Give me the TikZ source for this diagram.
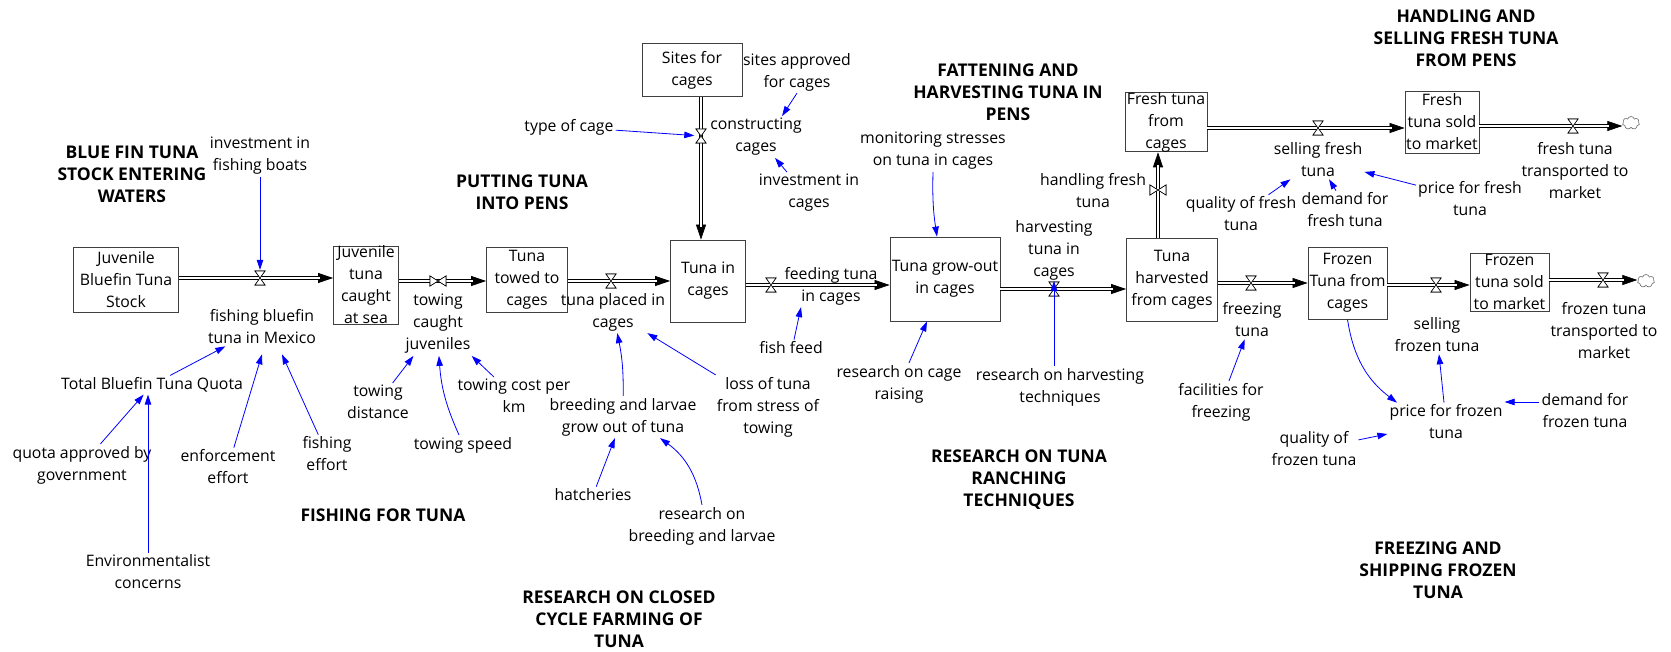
\documentclass[tikz,border=0pt]{standalone}
\usepackage{fontspec}
\setmainfont{Open Sans}
\usetikzlibrary{arrows.meta,shapes.symbols}

\begin{document}
\begin{tikzpicture}[x=1pt,y=-1pt,
    every node/.style={font=\fontsize{15.8}{22}\selectfont},
    stock/.style={draw=black!75, line width=.8pt, align=center, inner sep=0pt},
    aux/.style={align=center, inner sep=2pt},
    sector/.style={align=center, font=\fontsize{17.5}{22}\selectfont\bfseries},
    pipe/.style={draw=black, line width=.7pt, double=white, double distance=2.6pt, shorten >=13pt},
    flowhead/.style={draw=black, line width=.7pt, -{Triangle[length=15pt,width=10pt]}},
    link/.style={draw=blue, line width=.8pt, -{Triangle[length=10pt,width=6.5pt]}},
    valve/.style={inner sep=0pt, minimum width=13pt, minimum height=16pt,
        path picture={\draw[line width=.6pt, fill=white]
            ([xshift=1.5pt,yshift=-1pt]path picture bounding box.north west) --
            ([xshift=-1.5pt,yshift=-1pt]path picture bounding box.north east) --
            ([xshift=1.5pt,yshift=1pt]path picture bounding box.south west) --
            ([xshift=-1.5pt,yshift=1pt]path picture bounding box.south east) -- cycle;}},
    bowtie/.style={inner sep=0pt, minimum width=18pt, minimum height=13pt,
        path picture={\draw[line width=.6pt, fill=white]
            ([xshift=1pt,yshift=-1.5pt]path picture bounding box.north west) --
            ([xshift=1pt,yshift=1.5pt]path picture bounding box.south west) --
            ([xshift=-1pt,yshift=-1.5pt]path picture bounding box.north east) --
            ([xshift=-1pt,yshift=1.5pt]path picture bounding box.south east) -- cycle;}},
    sink/.style={cloud, cloud puffs=7, draw=black!60, line width=.6pt, inner sep=0pt,
        minimum width=17pt, minimum height=13pt}]
\useasboundingbox (0,0) rectangle (1671,652);

% sectors of the model
\node[sector] (secstock) at (132,174) {BLUE FIN TUNA\\STOCK ENTERING\\WATERS};
\node[sector] (secput) at (522,192) {PUTTING TUNA\\INTO PENS};
\node[sector] (secfish) at (383,515) {FISHING FOR TUNA};
\node[sector] (secclosed) at (619,619) {RESEARCH ON CLOSED\\CYCLE FARMING OF\\TUNA};
\node[sector] (secfat) at (1008,92) {FATTENING AND\\HARVESTING TUNA IN\\PENS};
\node[sector] (secranch) at (1019,480) {RESEARCH ON TUNA\\RANCHING\\TECHNIQUES};
\node[sector] (secsell) at (1466,38) {HANDLING AND\\SELLING FRESH TUNA\\FROM PENS};
\node[sector] (secfreeze) at (1438,570) {FREEZING AND\\SHIPPING FROZEN\\TUNA};

% stocks
\node[stock, minimum width=105pt, minimum height=65pt] (juv) at (126,280) {Juvenile\\Bluefin Tuna\\Stock};
\node[stock, minimum width=65pt, minimum height=76pt] (caught) at (366,285) {Juvenile\\tuna\\caught\\at sea};
\node[stock, minimum width=81pt, minimum height=65pt] (towed) at (527,280) {Tuna\\towed to\\cages};
\node[stock, minimum width=100pt, minimum height=53pt] (sites) at (692,70) {Sites for\\cages};
\node[stock, minimum width=75pt, minimum height=82pt] (incages) at (708,281) {Tuna in\\cages};
\node[stock, minimum width=110pt, minimum height=84pt] (growout) at (945,279) {Tuna grow-out\\in cages};
\node[stock, minimum width=91pt, minimum height=83pt] (harv) at (1172,280) {Tuna\\harvested\\from cages};
\node[stock, minimum width=82pt, minimum height=58pt] (fresh) at (1166,122) {Fresh tuna\\from\\cages};
\node[stock, minimum width=74pt, minimum height=62pt] (freshsold) at (1442,122) {Fresh\\tuna sold\\to market};
\node[stock, minimum width=79pt, minimum height=72pt] (frozen) at (1347.5,283) {Frozen\\Tuna from\\cages};
\node[stock, minimum width=79pt, minimum height=58pt] (frozensold) at (1509.5,282) {Frozen\\tuna sold\\to market};
\node[sink] (cfresh) at (1631,123) {};
\node[sink] (cfrozen) at (1646,281) {};

% valves
\node[valve] (vfish) at (260,278) {};
\node[bowtie] (vtow) at (438,281) {};
\node[valve] (vplace) at (611,281) {};
\node[valve] (vbuild) at (701,136) {};
\node[valve] (vfeed) at (771,285) {};
\node[valve] (vharv) at (1054,289) {};
\node[bowtie] (vhandle) at (1158,190) {};
\node[valve] (vsellfresh) at (1318,128) {};
\node[valve] (vtransfresh) at (1573,126) {};
\node[valve] (vfreeze) at (1251,283) {};
\node[valve] (vsellfrozen) at (1436,285) {};
\node[valve] (vtransfrozen) at (1603,280) {};

% pipes (head first, double line over it)
\draw[flowhead] (juv.east |- vfish) -- (caught.west |- vfish);
\draw[pipe] (juv.east |- vfish) -- (caught.west |- vfish);
\draw[flowhead] (caught.east |- vtow) -- (towed.west |- vtow);
\draw[pipe] (caught.east |- vtow) -- (towed.west |- vtow);
\draw[flowhead] (towed.east |- vplace) -- (incages.west |- vplace);
\draw[pipe] (towed.east |- vplace) -- (incages.west |- vplace);
\draw[flowhead] (sites.south -| vbuild) -- (incages.north -| vbuild);
\draw[pipe] (sites.south -| vbuild) -- (incages.north -| vbuild);
\draw[flowhead] (incages.east |- vfeed) -- (growout.west |- vfeed);
\draw[pipe] (incages.east |- vfeed) -- (growout.west |- vfeed);
\draw[flowhead] (growout.east |- vharv) -- (harv.west |- vharv);
\draw[pipe] (growout.east |- vharv) -- (harv.west |- vharv);
\draw[flowhead] (harv.north -| vhandle) -- (fresh.south -| vhandle);
\draw[pipe] (harv.north -| vhandle) -- (fresh.south -| vhandle);
\draw[flowhead] (fresh.east |- vsellfresh) -- (freshsold.west |- vsellfresh);
\draw[pipe] (fresh.east |- vsellfresh) -- (freshsold.west |- vsellfresh);
\draw[flowhead] (freshsold.east |- vtransfresh) -- (cfresh.west |- vtransfresh);
\draw[pipe] (freshsold.east |- vtransfresh) -- (cfresh.west |- vtransfresh);
\draw[flowhead] (harv.east |- vfreeze) -- (frozen.west |- vfreeze);
\draw[pipe] (harv.east |- vfreeze) -- (frozen.west |- vfreeze);
\draw[flowhead] (frozen.east |- vsellfrozen) -- (frozensold.west |- vsellfrozen);
\draw[pipe] (frozen.east |- vsellfrozen) -- (frozensold.west |- vsellfrozen);
\draw[flowhead] (frozensold.east |- vtransfrozen) -- (cfrozen.west |- vtransfrozen);
\draw[pipe] (frozensold.east |- vtransfrozen) -- (cfrozen.west |- vtransfrozen);
% valves again on top of the pipes
\foreach \v/\s in {vfish/valve, vtow/bowtie, vplace/valve, vbuild/valve, vfeed/valve, vharv/valve,
    vhandle/bowtie, vsellfresh/valve, vtransfresh/valve, vfreeze/valve, vsellfrozen/valve, vtransfrozen/valve}
  \node[\s] at (\v) {};

% flow names and other variables
\node[aux] (invboat) at (260,156) {investment in\\fishing boats};
\node[aux] (fishing) at (262,327) {fishing bluefin\\tuna in Mexico};
\node[aux] (quota) at (152,385) {Total Bluefin Tuna Quota};
\node[aux] (quotagov) at (82,465) {quota approved by\\government};
\node[aux] (env) at (148,572) {Environmentalist\\concerns};
\node[aux] (enforce) at (228,467) {enforcement\\effort};
\node[aux] (feffort) at (327,454) {fishing\\effort};
\node[aux] (towing) at (438,324) {towing\\caught\\juveniles};
\node[aux] (tdist) at (378,402) {towing\\distance};
\node[aux] (tspeed) at (463,445) {towing speed};
\node[aux] (tcost) at (514,396) {towing cost per\\km};
\node[aux] (placed) at (613,312) {tuna placed in\\cages};
\node[aux] (breeding) at (623,417) {breeding and larvae\\grow out of tuna};
\node[aux] (loss) at (768,407) {loss of tuna\\from stress of\\towing};
\node[aux] (hatch) at (593,495) {hatcheries};
\node[aux] (resbreed) at (702,526) {research on\\breeding and larvae};
\node[aux] (typecage) at (569,127) {type of cage};
\node[aux] (construct) at (756,137) {constructing\\cages};
\node[aux] (sitesok) at (797,72) {sites approved\\for cages};
\node[aux] (invcage) at (809,193) {investment in\\cages};
\node[aux] (feeding) at (831,286) {feeding tuna\\in cages};
\node[aux] (feed) at (791,348) {fish feed};
\node[aux] (monitor) at (933,151) {monitoring stresses\\on tuna in cages};
\node[aux] (rescage) at (899,384) {research on cage\\raising};
\node[aux] (harvesting) at (1054,250) {harvesting\\tuna in\\cages};
\node[aux] (resharv) at (1060,387) {research on harvesting\\techniques};
\node[aux] (handling) at (1093,191) {handling fresh\\tuna};
\node[aux] (sellfresh) at (1318,160) {selling fresh\\tuna};
\node[aux] (qfresh) at (1241,214) {quality of fresh\\tuna};
\node[aux] (dfresh) at (1345,210) {demand for\\fresh tuna};
\node[aux] (pfresh) at (1470,199) {price for fresh\\tuna};
\node[aux] (freshtrans) at (1575,171) {fresh tuna\\transported to\\market};
\node[aux] (freezing) at (1252,320) {freezing\\tuna};
\node[aux] (facil) at (1221,402) {facilities for\\freezing};
\node[aux] (sellfrozen) at (1437,335) {selling\\frozen tuna};
\node[aux] (pfrozen) at (1446,422) {price for frozen\\tuna};
\node[aux] (dfrozen) at (1585,411) {demand for\\frozen tuna};
\node[aux] (qfrozen) at (1314,449) {quality of\\frozen tuna};
\node[aux] (frozentrans) at (1604,331) {frozen tuna\\transported to\\market};

% causal links
\draw[link] (invboat) -- (vfish);
\draw[link] (quota) -- (fishing);
\draw[link] (quotagov) -- (quota);
\draw[link] (env.north) -- (env.north |- quota.south);
\draw[link] (enforce) -- ([yshift=-8pt]fishing.south);
\draw[link] (feffort) -- ([xshift=20pt,yshift=-8pt]fishing.south);
\draw[link] (tdist) -- (towing);
\draw[link] (tspeed) to[bend left=10] (towing);
\draw[link] (tcost) -- (towing);
\draw[link] (breeding) to[bend right=6] (placed);
\draw[link] (loss) -- (placed);
\draw[link] (hatch) -- (breeding);
\draw[link] (resbreed.north) to[bend right=22] ([xshift=37pt]breeding.south);
\draw[link] (typecage) -- (vbuild);
\draw[link] (sitesok.south) -- ([xshift=26pt]construct.north);
\draw[link] ([xshift=-22pt]invcage.north) -- ([xshift=19pt]construct.south);
\draw[link] ([xshift=3pt]feed.north) -- ([xshift=-30pt]feeding.south);
\draw[link] (monitor.south) to[bend right=5] ([xshift=-8pt]growout.north);
\draw[link] ([xshift=10pt]rescage.north) -- ([xshift=-18pt]growout.south);
\draw[link] (resharv.north -| vharv) -- (vharv.north);
\draw[link] (qfresh) -- (sellfresh);
\draw[link] ([xshift=-9pt]dfresh.north) -- ([xshift=11pt]sellfresh.south);
\draw[link] (pfresh) -- (sellfresh);
\draw[link] (facil) -- (freezing);
\draw[link] (frozen.south) to[bend right=22] ([xshift=-49pt]pfrozen.north);
\draw[link] (pfrozen) -- (sellfrozen);
\draw[link] ([yshift=9pt]dfrozen.west) -- ([yshift=9pt]dfrozen.west -| pfrozen.east);
\draw[link] (qfrozen) -- (pfrozen);
\end{tikzpicture}
\end{document}
